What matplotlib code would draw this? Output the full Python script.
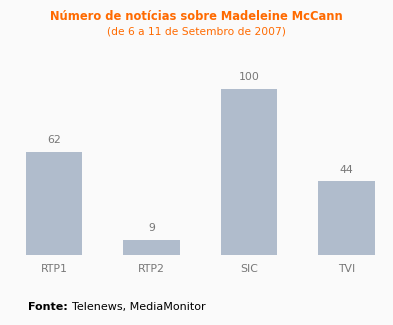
import matplotlib.pyplot as plt
from matplotlib.transforms import offset_copy

# dados do grafico
canais = ['RTP1', 'RTP2', 'SIC', 'TVI']
noticias = [62, 9, 100, 44]

W, H = 393, 325
fig = plt.figure(figsize=(W / 100, H / 100), dpi=100)
fig.patch.set_facecolor('#fafafa')

# eixo posicionado em pixels
ax = fig.add_axes([5.25 / W, 70.5 / H, 390 / W, 199.2 / H])
ax.set_facecolor('#fafafa')
x = range(len(canais))
barras = ax.bar(x, noticias, width=0.575, color='#b0bccc')
ax.set_xlim(-0.5, 3.5)
ax.set_ylim(0, 120)
for b, v in zip(barras, noticias):
    ax.annotate(str(v), (b.get_x() + b.get_width() / 2, v), xytext=(0, 5),
                textcoords='offset points', ha='center', va='bottom',
                fontsize=7.8, color='#777777')
ax.set_xticks(list(x))
ax.set_xticklabels(canais, fontsize=7.8, color='#777777')
ax.tick_params(axis='x', length=0, pad=7)
ax.set_yticks([])
for s in ax.spines.values():
    s.set_visible(False)

# titulo
fig.text(0.5, 1 - 16 / H, 'Número de notícias sobre Madeleine McCann', ha='center',
         va='center', fontsize=8.3, fontweight='bold', color='#ff6a00')
fig.text(0.5, 1 - 31 / H, '(de 6 a 11 de Setembro de 2007)', ha='center',
         va='center', fontsize=7.7, color='#ff6a00')

# fonte
fig.text(28 / W, 1 - 307 / H, 'Fonte:', ha='left', va='center', fontsize=8,
         fontweight='bold', color='black')
fig.text(72 / W, 1 - 307 / H, 'Telenews, MediaMonitor', ha='left', va='center',
         fontsize=8, color='black')

fig.savefig('out.png', dpi=100, facecolor=fig.get_facecolor())
